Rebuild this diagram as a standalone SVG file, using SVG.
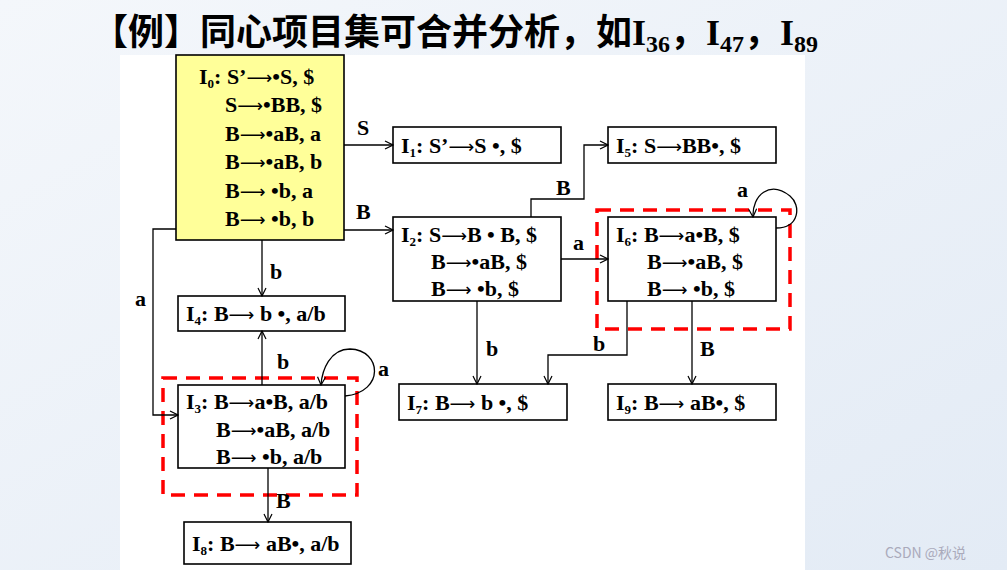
<svg xmlns="http://www.w3.org/2000/svg" width="1007" height="570" viewBox="0 0 1007 570">
<defs>
<linearGradient id="bg" x1="0" y1="0" x2="1" y2="1"><stop offset="0" stop-color="#f4f7fb"/><stop offset="1" stop-color="#e3ebf5"/></linearGradient>
<marker id="ar" markerWidth="10" markerHeight="10" refX="9" refY="5" orient="auto" markerUnits="userSpaceOnUse"><path d="M1,1 L9,5 L1,9" fill="none" stroke="#000" stroke-width="1.2"/></marker>
<style>
.n{fill:#fff;stroke:#000;stroke-width:1.6}
.y{fill:#ffff99}
.t{font-family:"Liberation Serif",serif;font-weight:bold;font-size:22px;fill:#000}
.a{font-family:"DejaVu Sans",sans-serif;font-weight:normal;font-size:18px}
.c{fill:none;stroke:#000;stroke-width:1.3;marker-end:url(#ar)}
.r{fill:none;stroke:#f00;stroke-width:3.5;stroke-dasharray:14,9}
</style>
</defs>
<rect width="1007" height="570" fill="url(#bg)"/>
<rect x="120" y="55" width="685" height="515" fill="#fff"/>
<text x="92" y="45" font-family="'Noto Sans CJK SC',serif" font-weight="bold" font-size="36">【例】同心项目集可合并分析，如<tspan font-family="'Liberation Serif',serif">I<tspan font-size="24" dy="7">36</tspan></tspan><tspan dy="-7">，</tspan><tspan font-family="'Liberation Serif',serif">I<tspan font-size="24" dy="7">47</tspan></tspan><tspan dy="-7">，</tspan><tspan font-family="'Liberation Serif',serif">I<tspan font-size="24" dy="7">89</tspan></tspan></text>
<g id="I0"><rect class="n y" x="176" y="55" width="168" height="185"/>
<text class="t" x="199" y="84">I<tspan font-size="13" dy="4">0</tspan><tspan dy="-4">: S’<tspan class="a">⟶</tspan>•S, $</tspan></text>
<text class="t" x="225" y="112">S<tspan class="a">⟶</tspan>•BB, $</text>
<text class="t" x="225" y="141">B<tspan class="a">⟶</tspan>•aB, a</text>
<text class="t" x="225" y="169">B<tspan class="a">⟶</tspan>•aB, b</text>
<text class="t" x="225" y="198">B<tspan class="a">⟶</tspan> •b, a</text>
<text class="t" x="225" y="226">B<tspan class="a">⟶</tspan> •b, b</text></g>
<g id="I1"><rect class="n" x="393" y="127" width="168" height="36"/><text class="t" x="401" y="153">I<tspan font-size="13" dy="4">1</tspan><tspan dy="-4">: S’<tspan class="a">⟶</tspan>S •, $</tspan></text></g>
<g id="I2"><rect class="n" x="393" y="217" width="168" height="84"/><text class="t" x="401" y="242">I<tspan font-size="13" dy="4">2</tspan><tspan dy="-4">: S<tspan class="a">⟶</tspan>B • B, $</tspan></text><text class="t" x="431" y="269">B<tspan class="a">⟶</tspan>•aB, $</text><text class="t" x="431" y="296">B<tspan class="a">⟶</tspan> •b, $</text></g>
<g id="I5"><rect class="n" x="608" y="127" width="168" height="36"/><text class="t" x="616" y="153">I<tspan font-size="13" dy="4">5</tspan><tspan dy="-4">: S<tspan class="a">⟶</tspan>BB•, $</tspan></text></g>
<g id="I6"><rect class="n" x="608" y="217" width="168" height="84"/><text class="t" x="616" y="242">I<tspan font-size="13" dy="4">6</tspan><tspan dy="-4">: B<tspan class="a">⟶</tspan>a•B, $</tspan></text><text class="t" x="647" y="269">B<tspan class="a">⟶</tspan>•aB, $</text><text class="t" x="647" y="296">B<tspan class="a">⟶</tspan> •b, $</text></g>
<g id="I7"><rect class="n" x="399" y="384" width="168" height="36"/><text class="t" x="407" y="410">I<tspan font-size="13" dy="4">7</tspan><tspan dy="-4">: B<tspan class="a">⟶</tspan> b •, $</tspan></text></g>
<g id="I9"><rect class="n" x="608" y="384" width="168" height="36"/><text class="t" x="616" y="410">I<tspan font-size="13" dy="4">9</tspan><tspan dy="-4">: B<tspan class="a">⟶</tspan> aB•, $</tspan></text></g>
<g id="I4"><rect class="n" x="178" y="296" width="167" height="35"/><text class="t" x="186" y="321">I<tspan font-size="13" dy="4">4</tspan><tspan dy="-4">: B<tspan class="a">⟶</tspan> b •, a/b</tspan></text></g>
<g id="I3"><rect class="n" x="178" y="385" width="167" height="83"/><text class="t" x="186" y="409">I<tspan font-size="13" dy="4">3</tspan><tspan dy="-4">: B<tspan class="a">⟶</tspan>a•B, a/b</tspan></text><text class="t" x="216" y="437">B<tspan class="a">⟶</tspan>•aB, a/b</text><text class="t" x="216" y="464">B<tspan class="a">⟶</tspan> •b, a/b</text></g>
<g id="I8"><rect class="n" x="184" y="522" width="167" height="42"/><text class="t" x="192" y="551">I<tspan font-size="13" dy="4">8</tspan><tspan dy="-4">: B<tspan class="a">⟶</tspan> aB•, a/b</tspan></text></g>
<g id="groups"><rect class="r" x="597" y="210" width="193" height="119"/><rect class="r" x="163" y="378" width="194" height="117"/></g>
<g id="connectors">
<path class="c" d="M344,145 H393"/>
<path class="c" d="M344,230 H393"/>
<path class="c" d="M262,240 V296"/>
<path class="c" d="M176,229 H153 V415 H178"/>
<path class="c" d="M262,385 V331"/>
<path class="c" d="M345,396 C385,392 382,350 350,349 C330,349 322,370 321,385"/>
<path class="c" d="M268,468 V522"/>
<path class="c" d="M531,217 V199 H584 V145 H608"/>
<path class="c" d="M561,259 H608"/>
<path class="c" d="M477,301 V384"/>
<path class="c" d="M627,301 V355 H548 V384"/>
<path class="c" d="M692,301 V384"/>
<path class="c" d="M776,228 C800,228 801,205 790,196 C770,180 752,195 753,217"/>
<g class="t"><text x="357" y="135">S</text><text x="356" y="219">B</text><text x="270" y="279">b</text><text x="135" y="306">a</text><text x="277" y="369">b</text><text x="378" y="376">a</text><text x="276" y="508">B</text><text x="556" y="195">B</text><text x="573" y="250">a</text><text x="486" y="356">b</text><text x="593" y="351">b</text><text x="700" y="356">B</text><text x="737" y="197">a</text></g>
</g>
<text x="885" y="558" font-family="'Noto Sans CJK SC',sans-serif" font-size="14" fill="#aab">CSDN @秋说</text>
</svg>
